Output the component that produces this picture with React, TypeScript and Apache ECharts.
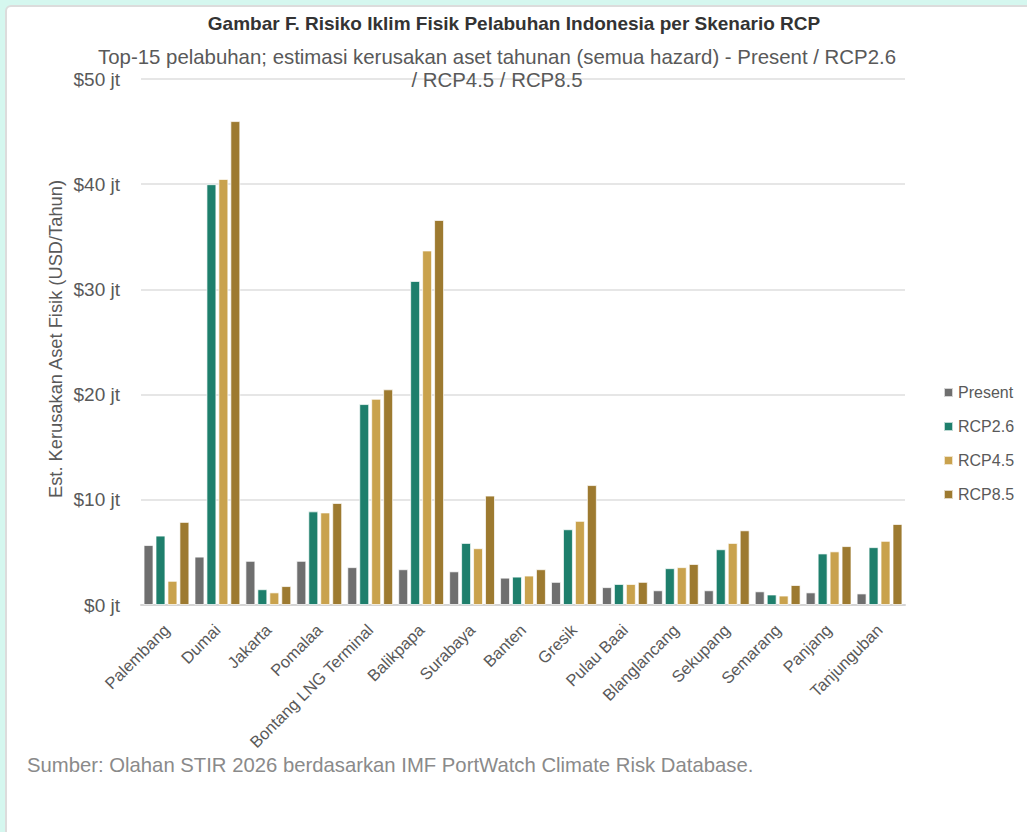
import React, { useEffect, useRef } from "react";
import * as echarts from "echarts";

// Top-15 ports, estimated annual physical asset damage (USD million / year)
const ports = [
  "Palembang",
  "Dumai",
  "Jakarta",
  "Pomalaa",
  "Bontang LNG Terminal",
  "Balikpapa",
  "Surabaya",
  "Banten",
  "Gresik",
  "Pulau Baai",
  "Blanglancang",
  "Sekupang",
  "Semarang",
  "Panjang",
  "Tanjunguban",
];

const present = [5.7, 4.6, 4.2, 4.2, 3.6, 3.4, 3.2, 2.6, 2.2, 1.7, 1.4, 1.4, 1.3, 1.2, 1.1];
const rcp26 = [6.6, 40.0, 1.5, 8.9, 19.1, 30.8, 5.9, 2.7, 7.2, 2.0, 3.5, 5.3, 1.0, 4.9, 5.5];
const rcp45 = [2.3, 40.5, 1.2, 8.8, 19.6, 33.7, 5.4, 2.8, 8.0, 2.0, 3.6, 5.9, 0.9, 5.1, 6.1];
const rcp85 = [7.9, 46.0, 1.8, 9.7, 20.5, 36.6, 10.4, 3.4, 11.4, 2.2, 3.9, 7.1, 1.9, 5.6, 7.7];

const scenarioNames = ["Present", "RCP2.6", "RCP4.5", "RCP8.5"];
const scenarioColors = ["#6f6f6f", "#1e7f6c", "#c9a24d", "#9d7a30"];

const titleText = "Gambar F. Risiko Iklim Fisik Pelabuhan Indonesia per Skenario RCP";
const subtitleText =
  "Top-15 pelabuhan; estimasi kerusakan aset tahunan (semua hazard) - Present / RCP2.6\n/ RCP4.5 / RCP8.5";
const yAxisTitle = "Est. Kerusakan Aset Fisik (USD/Tahun)";
const sourceText = "Sumber: Olahan STIR 2026 berdasarkan IMF PortWatch Climate Risk Database.";

const FONT = "'Liberation Sans', Arial, Helvetica, sans-serif";

export default function App() {
  const ref = useRef<HTMLDivElement>(null);

  useEffect(() => {
    if (!ref.current) return;
    const chart = echarts.init(ref.current, undefined, { renderer: "svg" });
    const seriesData = [present, rcp26, rcp45, rcp85];

    chart.setOption({
      animation: false,
      textStyle: { fontFamily: FONT },
      title: [
        {
          text: titleText,
          left: 509,
          textAlign: "center",
          top: 8,
          textStyle: { fontFamily: FONT, fontSize: 19, fontWeight: "bold", color: "#333333", lineHeight: 21 },
        },
        {
          text: subtitleText,
          left: 492,
          textAlign: "center",
          top: 40,
          textStyle: { fontFamily: FONT, fontSize: 20.4, fontWeight: "normal", color: "#595959", lineHeight: 23 },
        },
      ],
      legend: {
        orient: "vertical",
        left: 938,
        top: 379,
        itemWidth: 9,
        itemHeight: 9,
        itemGap: 17,
        icon: "rect",
        data: scenarioNames,
        textStyle: { fontFamily: FONT, fontSize: 16, color: "#595959", lineHeight: 17 },
      },
      grid: { left: 141, right: 122, top: 79, bottom: 227, containLabel: false },
      xAxis: {
        type: "category",
        data: ports,
        axisLine: { show: true, lineStyle: { color: "#d4d4d4", width: 2 } },
        axisTick: { show: false },
        axisLabel: {
          rotate: 45,
          interval: 0,
          margin: 22,
          fontFamily: FONT,
          fontSize: 16.5,
          color: "#595959",
        },
      },
      yAxis: {
        type: "value",
        min: 0,
        max: 50,
        interval: 10,
        axisLine: { show: false },
        axisTick: { show: false },
        splitLine: { show: true, lineStyle: { color: "#e6e6e6", width: 2 } },
        axisLabel: {
          margin: 21,
          fontFamily: FONT,
          fontSize: 19,
          color: "#595959",
          formatter: (v: number) => `$${v} jt`,
        },
      },
      graphic: [
        {
          type: "text",
          x: 55,
          y: 339,
          rotation: Math.PI / 2,
          style: {
            text: yAxisTitle,
            fontFamily: FONT,
            fontSize: 18.3,
            fill: "#595959",
            textAlign: "center",
            textVerticalAlign: "middle",
          },
        },
        {
          type: "text",
          x: 27,
          y: 765,
          style: {
            text: sourceText,
            fontFamily: FONT,
            fontSize: 20.3,
            fill: "#8a8a8a",
            textAlign: "left",
            textVerticalAlign: "middle",
          },
        },
      ],
      series: scenarioNames.map((name, i) => ({
        name,
        type: "bar",
        data: seriesData[i],
        barGap: "20%",
        barCategoryGap: "10%",
        itemStyle: {
          color: scenarioColors[i],
          borderColor: "rgba(255,255,255,0.7)",
          borderWidth: 1,
        },
      })),
    });

    return () => chart.dispose();
  }, []);

  return (
    <div style={{ position: "fixed", left: 0, top: 0, right: 0, bottom: 0, background: "#d5f7ef", overflow: "hidden" }}>
      <div
        style={{
          position: "absolute",
          left: 5,
          top: 5,
          width: 1100,
          height: 900,
          background: "#ffffff",
          border: "2px solid #dcdcdc",
          borderRadius: 6,
        }}
      />
      <div ref={ref} style={{ position: "absolute", left: 0, top: 0, width: 1027, height: 832 }} />
    </div>
  );
}
